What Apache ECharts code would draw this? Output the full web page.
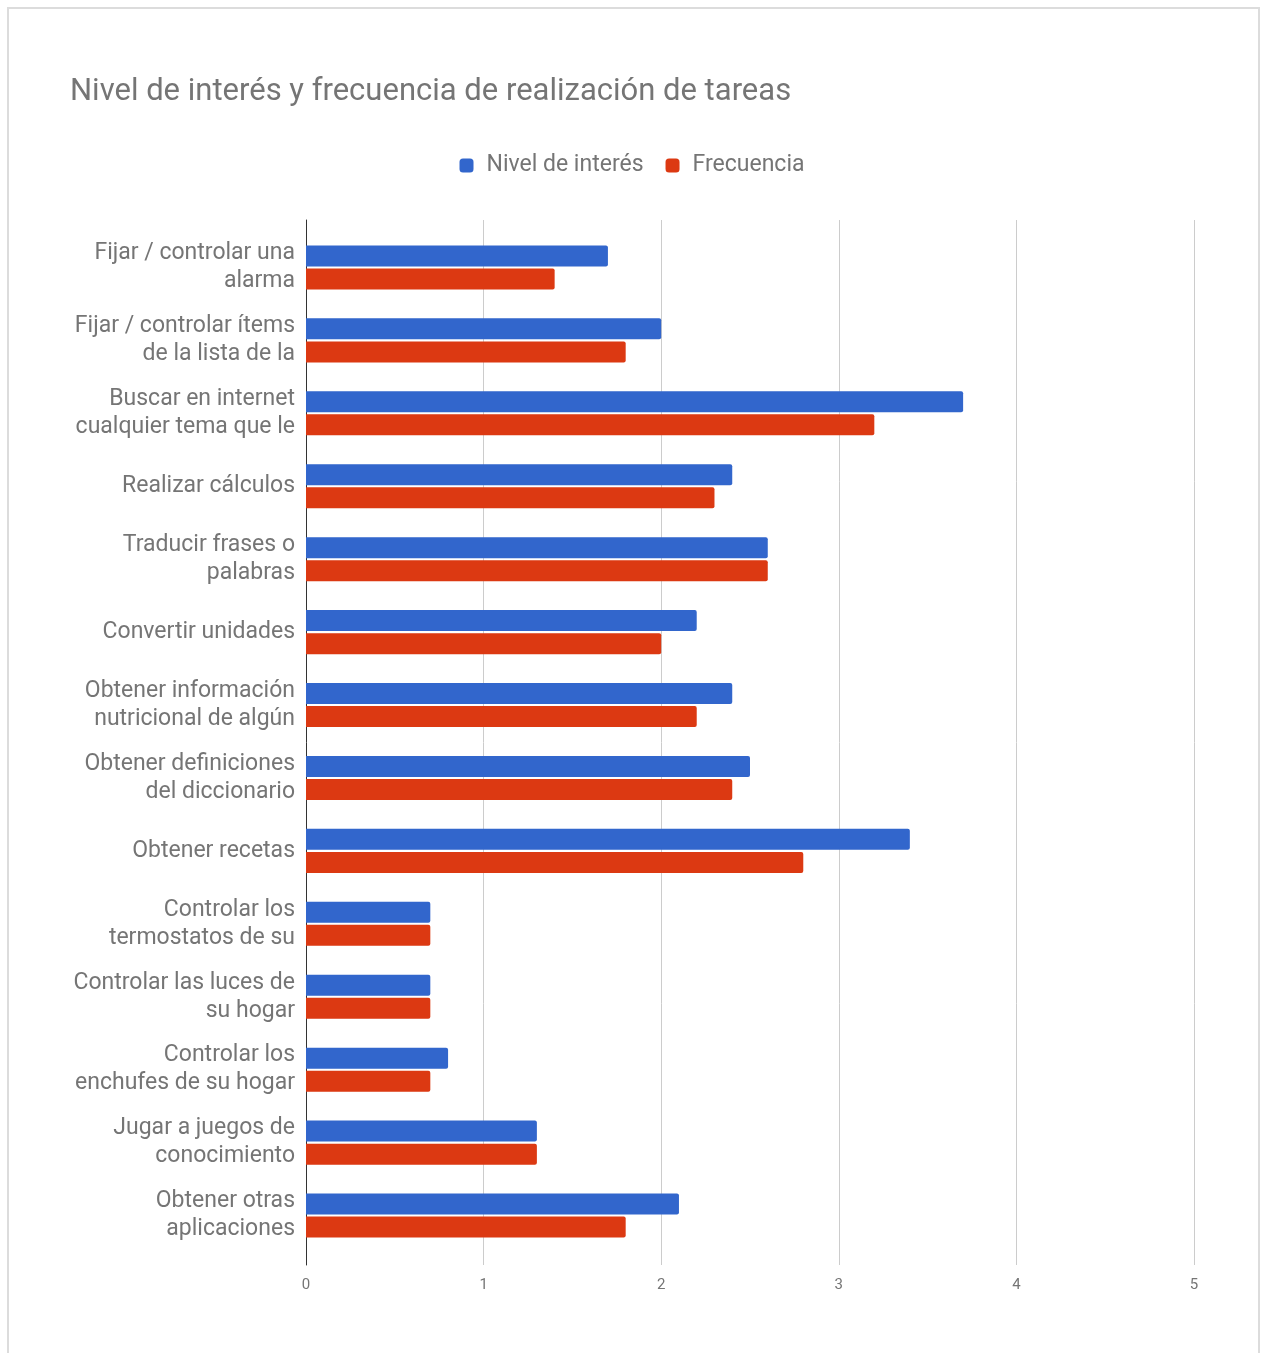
<!DOCTYPE html>
<html>
<head>
<meta charset="utf-8">
<script src="https://cdn.jsdelivr.net/npm/echarts@6/dist/echarts.min.js"></script>
<style>
  html, body { margin: 0; padding: 0; background: #fff; }
  #frame { position: absolute; left: 7px; top: 7px; width: 1253px; height: 1400px; border: 2px solid #dcdcdc; box-sizing: border-box; }
  #main { position: absolute; left: 0; top: 0; width: 1264px; height: 1353px; }
</style>
</head>
<body>
<div id="frame"></div>
<div id="main"></div>
<script>
// categorias (etiquetas tal como aparecen, cortadas)
var categories = [
  'Fijar / controlar una\nalarma',
  'Fijar / controlar ítems\nde la lista de la',
  'Buscar en internet\ncualquier tema que le',
  'Realizar cálculos',
  'Traducir frases o\npalabras',
  'Convertir unidades',
  'Obtener información\nnutricional de algún',
  'Obtener definiciones\ndel diccionario',
  'Obtener recetas',
  'Controlar los\ntermostatos de su',
  'Controlar las luces de\nsu hogar',
  'Controlar los\nenchufes de su hogar',
  'Jugar a juegos de\nconocimiento',
  'Obtener otras\naplicaciones'
];
var interes = [1.7, 2.0, 3.7, 2.4, 2.6, 2.2, 2.4, 2.5, 3.4, 0.7, 0.7, 0.8, 1.3, 2.1];
var frecuencia = [1.4, 1.8, 3.2, 2.3, 2.6, 2.0, 2.2, 2.4, 2.8, 0.7, 0.7, 0.7, 1.3, 1.8];
var xTicks = [0, 1, 2, 3, 4, 5];

var chart = echarts.init(document.getElementById('main'));
var option = {
  animation: false,
  textStyle: { fontFamily: 'Roboto' },
  title: {
    text: 'Nivel de interés y frecuencia de realización de tareas',
    left: 65,
    top: 72,
    textStyle: { fontSize: 31, fontWeight: 'normal', color: '#757575', fontFamily: 'Roboto' }
  },
  legend: {
    top: 149,
    left: 'center',
    itemWidth: 14,
    itemHeight: 14,
    itemGap: 22,
    icon: 'roundRect',
    textStyle: { fontSize: 23, color: '#757575', fontFamily: 'Roboto', padding: [0, 0, 0, 8] },
    data: ['Nivel de interés', 'Frecuencia']
  },
  // grid 0: lineas de fondo y eje; grid 1: barras
  grid: [
    { left: 306, right: 70, top: 220, bottom: 88, containLabel: false },
    { left: 306, right: 70, top: 231, bottom: 101, containLabel: false }
  ],
  xAxis: [
    {
      gridIndex: 0,
      type: 'value',
      min: 0,
      max: 5,
      interval: 1,
      axisLine: { show: false },
      axisTick: { show: false },
      splitLine: { lineStyle: { color: '#cccccc', width: 1 } },
      axisLabel: {
        fontSize: 15, color: '#757575', margin: 13,
        formatter: function (v) { return xTicks.indexOf(v) >= 0 ? String(v) : ''; }
      }
    },
    {
      gridIndex: 1,
      type: 'value',
      min: 0,
      max: 5,
      interval: 1,
      show: false
    }
  ],
  yAxis: [
    {
      gridIndex: 0,
      type: 'category',
      data: [''],
      axisLine: { show: true, lineStyle: { color: '#333333', width: 1 } },
      axisTick: { show: false },
      axisLabel: { show: false }
    },
    {
      gridIndex: 1,
      type: 'category',
      inverse: true,
      data: categories,
      axisLine: { show: false },
      axisTick: { show: false },
      axisLabel: { fontSize: 23, color: '#757575', lineHeight: 28, margin: 11, align: 'right', padding: [6, 0, 0, 0] }
    }
  ],
  series: [
    {
      name: 'Nivel de interés',
      type: 'bar',
      xAxisIndex: 1,
      yAxisIndex: 1,
      data: interes,
      barWidth: 21,
      barGap: '10%',
      itemStyle: { color: '#3266cc', borderRadius: [0, 2, 2, 0] }
    },
    {
      name: 'Frecuencia',
      type: 'bar',
      xAxisIndex: 1,
      yAxisIndex: 1,
      data: frecuencia,
      barWidth: 21,
      barGap: '10%',
      itemStyle: { color: '#dc3912', borderRadius: [0, 2, 2, 0] }
    }
  ]
};
chart.setOption(option);
</script>
</body>
</html>
